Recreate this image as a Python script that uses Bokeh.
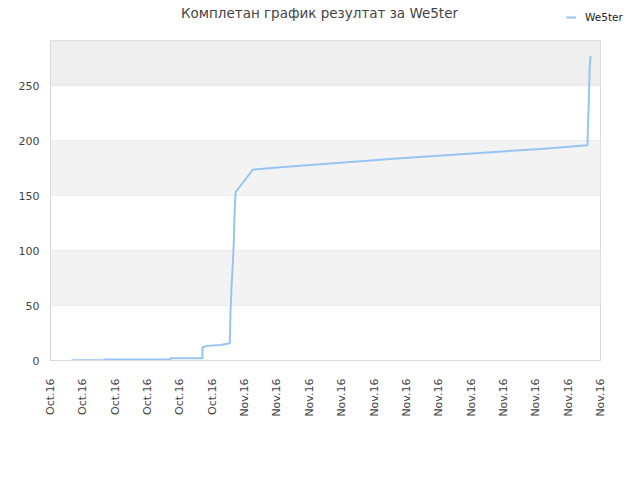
from bokeh.plotting import figure
from bokeh.models import FixedTicker, BoxAnnotation, Legend, LegendItem, Range1d, Label
from bokeh.layouts import column, row
from bokeh.embed import file_html
from bokeh.resources import INLINE

title_text = "Комплетан график резултат за We5ter"
series_name = "We5ter"

# x positions in tick units (tick 0 .. 17), y = score
xs = [0.649, 1.669, 1.669, 3.709, 3.709, 4.698, 4.698, 4.844, 5.255, 5.543,
      5.549, 5.564, 5.595, 5.635, 5.666, 5.688, 5.719, 6.254, 7.110, 10.819,
      15.147, 16.600, 16.609, 16.640, 16.661, 16.692]
ys = [0.3, 0.3, 1.0, 1.0, 2.0, 2.0, 12.0, 13.3, 14.0, 15.7,
      27.0, 45.0, 67.0, 88.0, 109.0, 134.0, 153.0, 173.6, 175.7, 184.0,
      192.4, 195.7, 209.0, 236.0, 263.6, 277.0]

tick_labels = ["Oct.16"] * 6 + ["Nov.16"] * 12
y_ticks = [0, 50, 100, 150, 200, 250]

LINE_COLOR = "#97c5f3"
W = 624

# ---- header strip: title and legend ----
head = figure(width=W, height=40, output_backend="svg", toolbar_location=None,
              x_range=Range1d(0, W), y_range=Range1d(0, 40),
              x_axis_location=None, y_axis_location=None,
              min_border_left=0, min_border_right=0, min_border_top=0,
              min_border_bottom=0)
head.outline_line_color = None
head.grid.visible = False
head.add_layout(Label(x=319, y=28, text=title_text, text_align="center",
                      text_baseline="alphabetic", text_font="DejaVu Sans",
                      text_font_size="13.5px", text_color="#444444"))
nan = float("nan")
lr = head.line(x=[nan], y=[nan], line_color=LINE_COLOR, line_width=2)
legend = Legend(items=[LegendItem(label=series_name, renderers=[lr])],
                location=(566, 17), padding=0, margin=0, spacing=0,
                glyph_width=10, glyph_height=12, label_height=12,
                label_standoff=9, border_line_alpha=0, background_fill_alpha=0,
                label_text_font="DejaVu Sans", label_text_font_size="10.5px",
                label_text_color="#222222")
head.add_layout(legend, "center")

# ---- main chart ----
p = figure(width=W, height=424, output_backend="svg", toolbar_location=None,
           x_range=Range1d(0, 17), y_range=Range1d(0, 291),
           min_border_left=50, min_border_right=24, min_border_top=0,
           min_border_bottom=104)

p.outline_line_color = "#d9d9d9"
p.background_fill_color = "white"
p.border_fill_color = "white"

for b, t, c in [(50, 100, "#f3f3f3"), (150, 200, "#f3f3f3"), (250, None, "#eeeeee")]:
    p.add_layout(BoxAnnotation(bottom=b, top=t, fill_color=c, fill_alpha=1,
                               line_alpha=0, level="underlay"))

p.xgrid.visible = False
p.ygrid.grid_line_color = "#e0e0e0"
p.ygrid.ticker = FixedTicker(ticks=y_ticks)

p.xaxis.ticker = FixedTicker(ticks=list(range(len(tick_labels))))
p.xaxis.major_label_overrides = {i: l for i, l in enumerate(tick_labels)}
p.xaxis.major_label_orientation = 3.14159265 / 2
p.yaxis.ticker = FixedTicker(ticks=y_ticks)

for ax in (p.xaxis, p.yaxis):
    ax.major_tick_line_color = None
    ax.minor_tick_line_color = None
    ax.major_tick_out = 0
    ax.major_tick_in = 0
    ax.minor_tick_out = 0
    ax.minor_tick_in = 0
    ax.axis_line_color = "#d9d9d9"
    ax.major_label_text_font = "DejaVu Sans"
    ax.major_label_text_font_size = "11px"
    ax.major_label_text_color = "#444444"
p.xaxis.major_label_standoff = 18
p.yaxis.major_label_standoff = 11

p.line(xs, ys, line_color=LINE_COLOR, line_width=2)

layout = column(row(head), p, spacing=0)
open("out.html", "w").write(file_html(layout, INLINE))
